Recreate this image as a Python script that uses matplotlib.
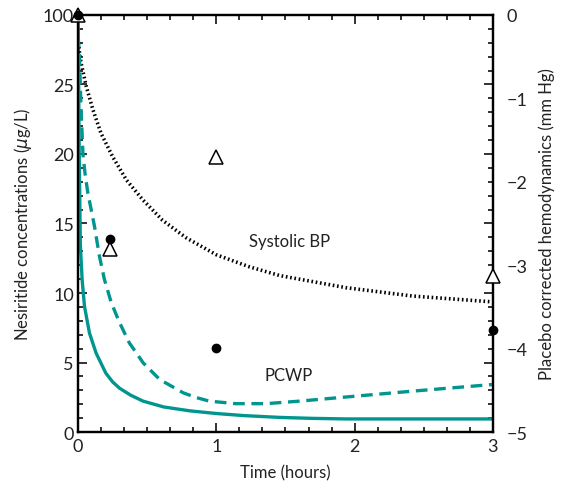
import matplotlib
matplotlib.use('Agg')
import matplotlib.pyplot as plt
from matplotlib.ticker import MultipleLocator

plt.rcParams['font.family'] = ['Lato', 'DejaVu Sans']

teal = '#00968f'

# Nesiritide concentration (left axis, ug/L)
conc_t = [0.0, 0.008, 0.016, 0.029, 0.046, 0.082, 0.13, 0.2, 0.25, 0.3, 0.38, 0.47, 0.62, 0.81, 1.0, 1.2,
          1.46, 1.7, 1.94, 2.5, 3.0]
conc_v = [30.0, 20.0, 13.5, 10.96, 9.04, 7.12, 5.68, 4.24, 3.6, 3.15, 2.65, 2.22, 1.8, 1.52, 1.33, 1.18,
          1.05, 0.98, 0.94, 0.94, 0.94]

# Systolic BP fit (right axis, mm Hg)
sbp_t = [0.0, 0.01, 0.022, 0.058, 0.106, 0.166, 0.25, 0.35, 0.47, 0.61, 0.78, 1.0, 1.24, 1.46, 1.94, 2.42, 3.0]
sbp_v = [-0.28, -0.45, -0.58, -0.85, -1.13, -1.42, -1.7, -1.98, -2.22, -2.46, -2.67, -2.875, -3.02, -3.125,
         -3.27, -3.37, -3.44]

# PCWP fit (right axis, mm Hg)
pcwp_t = [0.0, 0.01, 0.02, 0.035, 0.05, 0.07, 0.118, 0.154, 0.19, 0.24, 0.3, 0.37, 0.47, 0.59, 0.76,
          0.85, 0.95, 1.14, 1.36, 1.6, 1.94, 2.42, 3.0]
pcwp_v = [-0.25, -0.5, -1.08, -1.67, -1.9, -2.13, -2.53, -2.89, -3.17, -3.45, -3.69, -3.93, -4.17, -4.37,
          -4.53, -4.585, -4.63, -4.66, -4.66, -4.63, -4.58, -4.51, -4.43]

# observed points (right axis)
sbp_obs_t = [0, 0.23, 1, 3]
sbp_obs_v = [0, -2.81, -1.70, -3.13]
pcwp_obs_t = [0, 0.23, 1, 3]
pcwp_obs_v = [0, -2.69, -3.99, -3.78]

left_ticks = [0, 5, 10, 15, 20, 25, 30]
left_labels = ['0', '5', '10', '15', '20', '25', '100']
right_ticks = [-5, -4, -3, -2, -1, 0]
x_ticks = [0, 1, 2, 3]

fig = plt.figure(figsize=(5.62, 4.89), dpi=100)
ax = fig.add_axes([0.139, 0.1145, 0.738, 0.8528])
ax2 = ax.twinx()

# concentration curve on the left axis
ax.plot(conc_t, conc_v, color=teal, lw=2.4, solid_capstyle='butt', solid_joinstyle='round')
ax.set_xlim(0, 3)
ax.set_ylim(0, 30)
ax.set_xticks(x_ticks)
ax.xaxis.set_minor_locator(MultipleLocator(1 / 6))
ax.set_yticks(left_ticks)
ax.set_yticklabels(left_labels)
ax.yaxis.set_minor_locator(MultipleLocator(1))
ax.tick_params(which='both', direction='in', top=True, right=True, width=1.3,
               labelsize=13, colors='#222222')
ax.tick_params(which='major', length=6.5)
ax.tick_params(which='minor', length=3.6)
ax.tick_params(axis='y', pad=3)
ax.tick_params(axis='x', pad=4)
ax.set_xlabel('Time (hours)', fontsize=12, color='#222222', labelpad=8)
ax.set_ylabel('Nesiritide concentrations ($\\mu$g/L)', fontsize=12, color='#222222', labelpad=6)

# hemodynamic curves on the right axis
ax2.plot(sbp_t, sbp_v, color='black', lw=2.6, linestyle=(0, (0.45, 0.75)))
ax2.plot(pcwp_t, pcwp_v, color=teal, lw=2.4, linestyle=(0, (3.5, 2.0)))
ax2.plot(sbp_obs_t, sbp_obs_v, linestyle='none', marker='^', ms=10,
         mfc='white', mec='black', mew=1.1, clip_on=False, zorder=5)
ax2.plot(pcwp_obs_t, pcwp_obs_v, linestyle='none', marker='o', ms=6,
         color='black', clip_on=False, zorder=6)
ax2.set_ylim(-5, 0)
ax2.set_yticks(right_ticks)
ax2.tick_params(axis='y', length=0, pad=10, labelsize=13, colors='#222222')
ax2.set_ylabel('Placebo corrected hemodynamics (mm Hg)', fontsize=12,
               color='#222222', labelpad=8)

ax2.text(1.53, -2.71, 'Systolic BP', fontsize=12, ha='center', va='center', color='#222222')
ax2.text(1.52, -4.32, 'PCWP', fontsize=12, ha='center', va='center', color='#222222')

for a in (ax, ax2):
    for s in a.spines.values():
        s.set_linewidth(1.6)

fig.savefig('out.png', dpi=100)
